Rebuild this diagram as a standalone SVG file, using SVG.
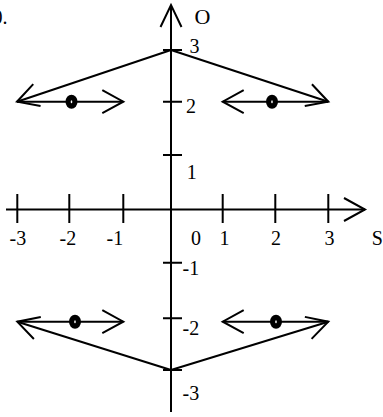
<svg xmlns="http://www.w3.org/2000/svg" width="383" height="417" viewBox="0 0 383 417">
<style>
.ln{stroke:#000;stroke-width:2;fill:none}
.t{font-family:"Liberation Serif","Times New Roman",serif;font-size:20px;fill:#000}
.ar{marker-end:url(#v)}
</style>
<defs>
<marker id="v" markerUnits="userSpaceOnUse" viewBox="-30 -20 40 40" refX="0" refY="0" markerWidth="40" markerHeight="40" orient="auto" overflow="visible">
<path d="M-21,-11.5 L0,0 L-21,11.5" fill="none" stroke="#000" stroke-width="2"/>
</marker>
</defs>
<rect width="383" height="417" fill="#fff"/>
<text class="t" x="-7.5" y="24">0.</text>
<g id="axes">
<line class="ln" x1="171" y1="412" x2="171" y2="5"/>
<path class="ln" d="M160.5,27 L171,5 L181.5,27"/>
<line class="ln ar" x1="6" y1="209.5" x2="365" y2="209.5"/>
<path class="ln" d="M17.3,194V223 M69.3,194V223 M123.3,194V223 M222.7,194V223 M275.3,194V223 M328.3,194V223"/>
<path class="ln" d="M163,50H182 M163,101.7H182 M163,155H182 M163,262.7H182 M163,318.3H182 M163,370H182"/>
</g>
<g id="labels">
<text class="t" x="9.5" y="245">-3</text>
<text class="t" x="59.5" y="245">-2</text>
<text class="t" x="106.5" y="245">-1</text>
<text class="t" x="191" y="245">0</text>
<text class="t" x="219.5" y="245">1</text>
<text class="t" x="271" y="245">2</text>
<text class="t" x="324.5" y="245">3</text>
<text class="t" x="371.7" y="245">S</text>
<text class="t" x="194.5" y="24" style="font-size:22px">O</text>
<text class="t" x="189.5" y="53.3">3</text>
<text class="t" x="186" y="113">2</text>
<text class="t" x="186.7" y="179">1</text>
<text class="t" x="182.5" y="275">-1</text>
<text class="t" x="182.5" y="335">-2</text>
<text class="t" x="182.5" y="400">-3</text>
</g>
<g id="connectors">
<line class="ln ar" x1="171" y1="50" x2="17" y2="101.7"/>
<line class="ln ar" x1="171" y1="50" x2="328.3" y2="101.7"/>
<line class="ln ar" x1="171" y1="370" x2="17.3" y2="321.7"/>
<line class="ln ar" x1="171" y1="370" x2="328.3" y2="321.7"/>
<line class="ln ar" x1="17" y1="101.7" x2="123.3" y2="101.7"/>
<line class="ln ar" x1="328.3" y1="101.7" x2="222.7" y2="101.7"/>
<line class="ln ar" x1="17.3" y1="321.7" x2="123.3" y2="321.7"/>
<line class="ln ar" x1="328.3" y1="321.7" x2="222.7" y2="321.7"/>
</g>
<g id="dot-tl"><ellipse cx="71.5" cy="101.7" rx="6" ry="7"/><ellipse cx="71.5" cy="101.7" rx="0.8" ry="1.5" fill="#fff"/></g>
<g id="dot-tr"><ellipse cx="272" cy="101.7" rx="6" ry="7"/><ellipse cx="272" cy="101.7" rx="0.8" ry="1.5" fill="#fff"/></g>
<g id="dot-bl"><ellipse cx="75" cy="321.7" rx="6" ry="7"/><ellipse cx="75" cy="321.7" rx="0.8" ry="1.5" fill="#fff"/></g>
<g id="dot-br"><ellipse cx="276" cy="321.7" rx="6" ry="7"/><ellipse cx="276" cy="321.7" rx="0.8" ry="1.5" fill="#fff"/></g>
</svg>
